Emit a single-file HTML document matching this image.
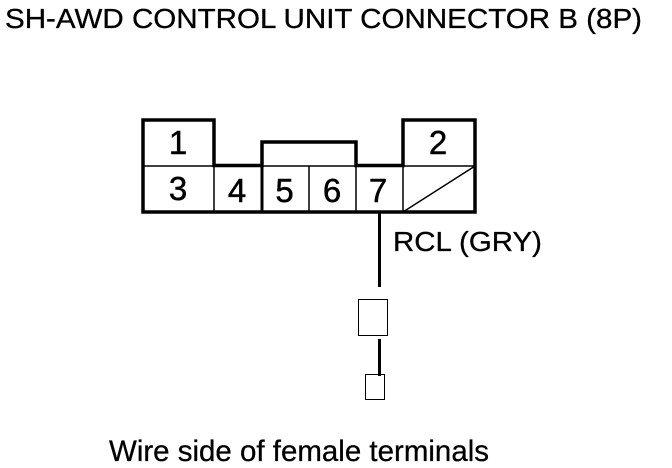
<!DOCTYPE html>
<html>
<head>
<meta charset="utf-8">
<style>
html,body{margin:0;padding:0;background:#fff;width:672px;height:468px;overflow:hidden}
svg{display:block}
text{font-family:"Liberation Sans",Arial,sans-serif;fill:#000}
</style>
</head>
<body>
<svg width="672" height="468" viewBox="0 0 672 468" xmlns="http://www.w3.org/2000/svg">
<text x="5" y="28" font-size="28" textLength="637" lengthAdjust="spacingAndGlyphs" stroke="#000" stroke-width="0.3">SH-AWD CONTROL UNIT CONNECTOR B (8P)</text>

<g fill="none" stroke="#000" stroke-linecap="square">
<path stroke-width="3.5" d="M143 212V120H214V165.5H262V142H356V165.5H403V120H475V212Z"/>
<path stroke-width="1.5" d="M143 166H475M214 166V212M309 166V212M356 166V212M403 166V212M403 212L475 166"/>
<path stroke-width="3" d="M262 166V212"/>
</g>

<g font-size="33" text-anchor="middle" stroke="#000" stroke-width="0.5">
<text x="178" y="154">1</text>
<text x="438" y="154">2</text>
<text x="178" y="200">3</text>
<text x="237" y="202">4</text>
<text x="284.5" y="202">5</text>
<text x="332" y="202">6</text>
<text x="378" y="202">7</text>
</g>

<path d="M379.5 212V287M379.5 339V376" stroke="#000" stroke-width="3" fill="none"/>
<rect x="358.5" y="299.5" width="29" height="36" fill="#fff" stroke="#000" stroke-width="1"/>
<rect x="365.5" y="374.5" width="19" height="25" fill="none" stroke="#000" stroke-width="1"/>

<text x="393" y="251" font-size="28" textLength="149" lengthAdjust="spacingAndGlyphs" stroke="#000" stroke-width="0.3">RCL (GRY)</text>
<text x="109" y="461" font-size="30" textLength="380" lengthAdjust="spacingAndGlyphs" stroke="#000" stroke-width="0.3">Wire side of female terminals</text>
</svg>
</body>
</html>
